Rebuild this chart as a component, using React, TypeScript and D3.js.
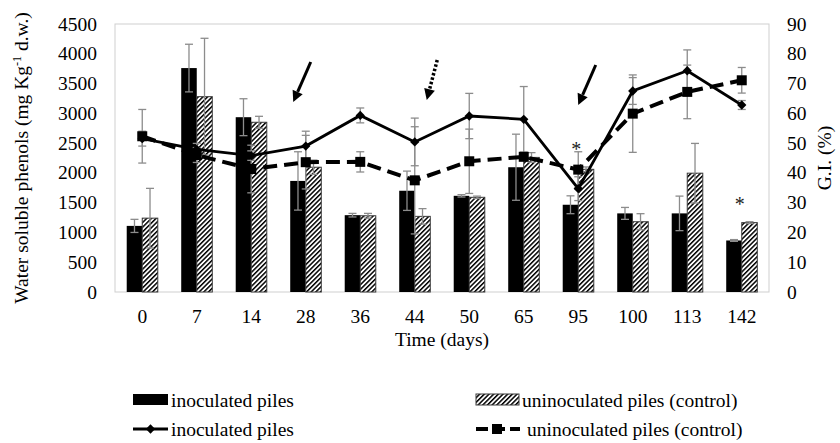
import { scaleBand, scaleLinear, line as d3line, range, symbol, symbolSquare, symbolDiamond2 } from "d3";

const days = ["0", "7", "14", "28", "36", "44", "50", "65", "95", "100", "113", "142"];

// water soluble phenols (mg Kg-1 d.w.), left axis
const phenolInoc = [1110, 3760, 2935, 1865, 1290, 1700, 1615, 2095, 1465, 1320, 1320, 865];
const phenolInocErr = [110, 400, 310, 490, 30, 330, 20, 555, 150, 100, 290, 15];
const phenolCtrl = [1240, 3280, 2850, 2095, 1280, 1270, 1590, 2260, 2060, 1180, 1995, 1165];
const phenolCtrlErr = [500, 980, 100, 120, 40, 130, 20, 80, 40, 135, 500, 15];

// G.I. (%), right axis
const giInoc = [51.5, 47.9, 45.8, 49.0, 59.3, 50.4, 59.1, 58.0, 34.7, 67.5, 74.3, 62.8];
const giInocErr = [2.5, 2, 1.6, 5, 2.5, 8, 7.6, 11, 4, 4.5, 7, 1.5];
const giCtrl = [52.3, 46.0, 41.3, 43.6, 43.7, 37.5, 43.9, 45.4, 41.1, 59.9, 67.2, 71.1];
const giCtrlErr = [9, 2.5, 8, 9, 3.4, 18, 10.8, 1, 6, 13, 9, 4.3];

const leftTicks = range(0, 4501, 500);
const rightTicks = range(0, 91, 10);
const starDays = ["95", "142"];
const arrows = [
  { day: "28", dotted: false },
  { day: "44", dotted: true },
  { day: "95", dotted: false },
];

const W = 840;
const H = 443;
const font = "'Liberation Serif', 'Times New Roman', serif";
const errColor = "#8c8c8c";

export default function App() {
  const left = 115, right = 769, top = 24, bottom = 292;

  const x = scaleBand<string>().domain(days).range([left, right]);
  const yL = scaleLinear().domain([0, 4500]).range([bottom, top]);
  const yR = scaleLinear().domain([0, 90]).range([bottom, top]);
  const cx = (d: string) => (x(d) ?? 0) + x.bandwidth() / 2;
  const barW = x.bandwidth() * 0.285;

  const lineGen = d3line<number>()
    .x((_, i) => cx(days[i]))
    .y((v) => yR(v));

  const square = symbol(symbolSquare, 100)() ?? "";
  const diamond = symbol(symbolDiamond2, 55)() ?? "";

  const errBar = (xc: number, y0: number, y1: number, key: string) => (
    <g key={key} stroke={errColor} strokeWidth={1.3}>
      <line x1={xc} x2={xc} y1={y0} y2={y1} />
      <line x1={xc - 4} x2={xc + 4} y1={y0} y2={y0} />
      <line x1={xc - 4} x2={xc + 4} y1={y1} y2={y1} />
    </g>
  );

  const arrowShape = (tx: number, ty: number, hx: number, hy: number, dotted: boolean, key: string) => {
    const dx = hx - tx, dy = hy - ty;
    const len = Math.hypot(dx, dy);
    const ux = dx / len, uy = dy / len;
    const headL = 11, headW = 5.5;
    const bx = hx - ux * headL, by = hy - uy * headL;
    return (
      <g key={key}>
        <line x1={tx} y1={ty} x2={bx} y2={by} stroke="#000" strokeWidth={dotted ? 3.5 : 3}
          strokeDasharray={dotted ? "2.5,2" : undefined} />
        <path d={`M${hx},${hy}L${bx - uy * headW},${by + ux * headW}L${bx + uy * headW},${by - ux * headW}Z`} fill="#000" />
      </g>
    );
  };

  return (
    <svg width={W} height={H} style={{ position: "absolute", left: 0, top: 0, background: "#fff" }} fontFamily={font}>
      <defs>
        <pattern id="hatch" patternUnits="userSpaceOnUse" width={3.3} height={3.3} patternTransform="rotate(45)">
          <rect width={3.3} height={3.3} fill="#fff" />
          <rect width={1.5} height={3.3} fill="#000" />
        </pattern>
      </defs>

      {/* plot frame */}
      <rect x={left} y={top} width={right - left} height={bottom - top} fill="none" stroke="#cfcfcf" strokeWidth={1} />

      {/* bars */}
      {days.map((d, i) => (
        <g key={"b" + d}>
          <rect x={cx(d) - barW} y={yL(phenolInoc[i])} width={barW} height={bottom - yL(phenolInoc[i])} fill="#000" />
          <rect x={cx(d)} y={yL(phenolCtrl[i])} width={barW} height={bottom - yL(phenolCtrl[i])} fill="url(#hatch)"
            stroke="#3a3a3a" strokeWidth={1} />
        </g>
      ))}
      {days.map((d, i) => (
        <g key={"be" + d}>
          {errBar(cx(d) - barW / 2, yL(phenolInoc[i] + phenolInocErr[i]), yL(phenolInoc[i] - phenolInocErr[i]), "a")}
          {errBar(cx(d) + barW / 2, yL(phenolCtrl[i] + phenolCtrlErr[i]), yL(phenolCtrl[i] - phenolCtrlErr[i]), "b")}
        </g>
      ))}

      {/* G.I. lines */}
      <path d={lineGen(giCtrl) ?? ""} fill="none" stroke="#000" strokeWidth={4} strokeDasharray="14,7" />
      <path d={lineGen(giInoc) ?? ""} fill="none" stroke="#000" strokeWidth={2.8} />
      {days.map((d, i) => (
        <g key={"le" + d}>
          {errBar(cx(d), yR(giCtrl[i] + giCtrlErr[i]), yR(giCtrl[i] - giCtrlErr[i]), "c")}
          {errBar(cx(d), yR(giInoc[i] + giInocErr[i]), yR(giInoc[i] - giInocErr[i]), "d")}
        </g>
      ))}
      {days.map((d, i) => (
        <g key={"m" + d}>
          <path d={square} transform={`translate(${cx(d)},${yR(giCtrl[i])})`} fill="#000" />
          <path d={diamond} transform={`translate(${cx(d)},${yR(giInoc[i])})`} fill="#000" />
        </g>
      ))}

      {/* significance marks */}
      {starDays.map((d) => {
        const i = days.indexOf(d);
        return (
          <text key={"s" + d} x={cx(d) - 2} y={yL(phenolCtrl[i] + phenolCtrlErr[i]) - 11} fontSize={20} textAnchor="middle" fill="#222">*</text>
        );
      })}

      {/* arrows */}
      {arrows.map((a) => {
        const c = cx(a.day);
        if (a.dotted) return arrowShape(c + 22.5, 60, c + 12, 100, true, a.day);
        if (a.day === "28") return arrowShape(c + 5, 62, c - 12.5, 102, false, a.day);
        return arrowShape(c + 17.5, 65, c, 105, false, a.day);
      })}

      {/* left axis */}
      {leftTicks.map((t) => (
        <text key={"l" + t} x={97} y={yL(t) + 6.5} fontSize={19.5} textAnchor="end">{t}</text>
      ))}
      {/* right axis */}
      {rightTicks.map((t) => (
        <text key={"r" + t} x={787} y={yR(t) + 6.5} fontSize={19.5}>{t}</text>
      ))}
      {/* categories */}
      {days.map((d) => (
        <text key={"x" + d} x={cx(d)} y={323} fontSize={19.5} textAnchor="middle">{d}</text>
      ))}
      <text x={(left + right) / 2} y={346} fontSize={19.5} textAnchor="middle">Time (days)</text>

      <text transform={`translate(28,${(top + bottom) / 2}) rotate(-90)`} fontSize={19.5} textAnchor="middle">
        Water soluble phenols (mg Kg<tspan dy={-7} fontSize={12}>-1</tspan><tspan dy={7}> d.w.)</tspan>
      </text>
      <text transform={`translate(831,${(top + bottom) / 2}) rotate(-90)`} fontSize={19.5} textAnchor="middle">G.I. (%)</text>

      {/* legend */}
      <rect x={133} y={394} width={35} height={11} fill="#000" />
      <text x={171} y={407} fontSize={19.5}>inoculated piles</text>
      <rect x={476} y={394} width={43} height={11} fill="url(#hatch)" stroke="#3a3a3a" strokeWidth={1} />
      <text x={522} y={407} fontSize={19.5}>uninoculated piles (control)</text>

      <line x1={133} x2={168} y1={429} y2={429} stroke="#000" strokeWidth={2.8} />
      <path d={diamond} transform="translate(150.5,429)" fill="#000" />
      <text x={171} y={436} fontSize={19.5}>inoculated piles</text>
      <line x1={476} x2={520} y1={429} y2={429} stroke="#000" strokeWidth={4} strokeDasharray="12,5" />
      <path d={square} transform="translate(497,429)" fill="#000" />
      <text x={527} y={436} fontSize={19.5}>uninoculated piles (control)</text>
    </svg>
  );
}
